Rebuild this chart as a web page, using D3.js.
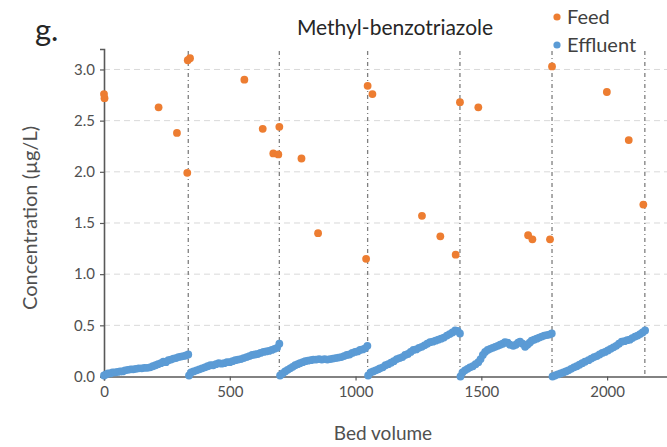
<!DOCTYPE html>
<html>
<head>
<meta charset="utf-8">
<script src="https://cdn.jsdelivr.net/npm/d3@7"></script>
<style>
  body { margin: 0; background: #fff; }
  svg text { font-family: Lato, "Open Sans", sans-serif; }
</style>
</head>
<body>
<div id="chart"></div>
<script>
// Methyl-benzotriazole breakthrough, panel g

var yTicks = [0, 0.5, 1.0, 1.5, 2.0, 2.5, 3.0];
var xTicks = [0, 500, 1000, 1500, 2000];
var cycleEnds = [335, 697, 1048, 1415, 1781, 2150];

// feed samples [bed volume, conc]
var feed = [
  [0, 2.76], [2, 2.72], [217, 2.63], [290, 2.38], [331, 1.99], [333, 3.09], [342, 3.11],
  [558, 2.90], [631, 2.42], [673, 2.18], [693, 2.17], [697, 2.44], [785, 2.13], [851, 1.40],
  [1042, 1.15], [1048, 2.84], [1067, 2.76], [1264, 1.57], [1337, 1.37], [1398, 1.19],
  [1415, 2.68], [1488, 2.63], [1686, 1.38], [1703, 1.34], [1773, 1.34], [1781, 3.03],
  [1999, 2.78], [2086, 2.31], [2144, 1.68]
];

// effluent samples [bed volume, conc]
var effluent = [
  // cycle 1
  [0, 0.01], [8, 0.02], [16, 0.03], [25, 0.03], [34, 0.04], [44, 0.04], [54, 0.045], [64, 0.05],
  [74, 0.05], [84, 0.06], [95, 0.065], [106, 0.07], [116, 0.07], [127, 0.075], [138, 0.08],
  [150, 0.08], [161, 0.085], [172, 0.085], [183, 0.09], [194, 0.10], [205, 0.11], [215, 0.12],
  [226, 0.13], [236, 0.145], [246, 0.14], [256, 0.16], [266, 0.165], [276, 0.175], [286, 0.18],
  [296, 0.19], [306, 0.195], [316, 0.20], [326, 0.205], [335, 0.215],
  // cycle 2
  [338, 0.01], [346, 0.04], [356, 0.05], [368, 0.06], [379, 0.07], [390, 0.08], [401, 0.09],
  [412, 0.10], [423, 0.11], [434, 0.11], [445, 0.12], [456, 0.13], [467, 0.125], [478, 0.13],
  [489, 0.14], [500, 0.14], [511, 0.15], [522, 0.16], [533, 0.165], [544, 0.17], [555, 0.18],
  [567, 0.19], [578, 0.20], [589, 0.21], [600, 0.215], [611, 0.22], [622, 0.23], [634, 0.24],
  [645, 0.245], [656, 0.25], [667, 0.26], [678, 0.27], [688, 0.28], [697, 0.32],
  // cycle 3
  [700, 0.01], [710, 0.03], [720, 0.05], [730, 0.065], [740, 0.08], [750, 0.095], [760, 0.11],
  [770, 0.12], [779, 0.13], [790, 0.14], [800, 0.15], [811, 0.155], [822, 0.16], [832, 0.165],
  [843, 0.165], [855, 0.17], [866, 0.165], [877, 0.17], [888, 0.165], [899, 0.17], [910, 0.175],
  [921, 0.18], [932, 0.185], [943, 0.19], [954, 0.20], [965, 0.21], [976, 0.215], [987, 0.23],
  [998, 0.24], [1008, 0.245], [1018, 0.26], [1028, 0.265], [1038, 0.275], [1047, 0.30],
  // cycle 4
  [1050, 0.01], [1060, 0.04], [1070, 0.05], [1080, 0.06], [1090, 0.07], [1097, 0.08], [1108, 0.09],
  [1119, 0.11], [1130, 0.12], [1141, 0.135], [1152, 0.15], [1164, 0.17], [1175, 0.18], [1186, 0.19],
  [1197, 0.21], [1208, 0.22], [1219, 0.24], [1230, 0.26], [1241, 0.265], [1252, 0.28], [1263, 0.29],
  [1274, 0.305], [1285, 0.32], [1296, 0.335], [1307, 0.34], [1318, 0.35], [1329, 0.36], [1340, 0.37],
  [1351, 0.38], [1363, 0.40], [1374, 0.415], [1385, 0.43], [1396, 0.45], [1406, 0.445], [1415, 0.42],
  // cycle 5
  [1417, 0.0], [1425, 0.04], [1435, 0.06], [1445, 0.075], [1455, 0.09], [1466, 0.10], [1477, 0.12],
  [1488, 0.14], [1497, 0.17], [1506, 0.21], [1515, 0.24], [1525, 0.26], [1535, 0.27], [1545, 0.28],
  [1555, 0.29], [1565, 0.30], [1575, 0.31], [1585, 0.32], [1594, 0.335], [1604, 0.33], [1614, 0.31],
  [1627, 0.30], [1637, 0.31], [1646, 0.33], [1654, 0.34], [1664, 0.32], [1674, 0.29], [1683, 0.31],
  [1692, 0.33], [1700, 0.35], [1710, 0.36], [1720, 0.37], [1730, 0.38], [1740, 0.39], [1750, 0.40],
  [1760, 0.405], [1770, 0.41], [1780, 0.42],
  // cycle 6
  [1783, 0.0], [1793, 0.01], [1804, 0.02], [1815, 0.03], [1826, 0.04], [1836, 0.05], [1846, 0.06],
  [1857, 0.075], [1868, 0.09], [1879, 0.10], [1890, 0.115], [1901, 0.13], [1912, 0.145], [1926, 0.16],
  [1937, 0.175], [1948, 0.19], [1959, 0.20], [1970, 0.215], [1981, 0.23], [1992, 0.24], [2003, 0.255],
  [2014, 0.27], [2025, 0.285], [2036, 0.30], [2047, 0.32], [2058, 0.34], [2069, 0.345], [2080, 0.355],
  [2090, 0.36], [2100, 0.375], [2111, 0.39], [2121, 0.40], [2131, 0.415], [2141, 0.43], [2151, 0.45]
];

var width = 667, height = 447;
var svg = d3.select("#chart").append("svg")
    .attr("width", width)
    .attr("height", height);

var x = d3.scaleLinear().domain([0, 2250]).range([104, 670]);
var y = d3.scaleLinear().domain([0, 3.2]).range([376.5, 49]);

var textCol = "#505050";

// horizontal grid
svg.append("g").selectAll("line")
    .data(yTicks.filter(function(d){return d > 0;}))
    .enter().append("line")
    .attr("x1", x(0)).attr("x2", width)
    .attr("y1", function(d){return y(d);})
    .attr("y2", function(d){return y(d);})
    .attr("stroke", "#d9d9d9")
    .attr("stroke-width", 1)
    .attr("stroke-dasharray", "6,4");

// cycle separators
svg.append("g").selectAll("line")
    .data(cycleEnds)
    .enter().append("line")
    .attr("x1", function(d){return x(d);})
    .attr("x2", function(d){return x(d);})
    .attr("y1", y(3.2) + 2).attr("y2", y(0))
    .attr("stroke", "#7f7f7f")
    .attr("stroke-width", 1.3)
    .attr("stroke-dasharray", "4,3,1,3");

// axes
var yAxis = d3.axisLeft(y).tickValues(yTicks).tickSize(4).tickFormat(d3.format(".1f"));
var xAxis = d3.axisBottom(x).tickValues(xTicks).tickSize(4).tickFormat(d3.format("d"));

var gy = svg.append("g").attr("transform", "translate(" + x(0) + ",0)").call(yAxis);
var gx = svg.append("g").attr("transform", "translate(0," + y(0) + ")").call(xAxis);

[gy, gx].forEach(function(g) {
    g.select(".domain").attr("stroke", "#595959").attr("stroke-width", 1.6);
    g.selectAll(".tick line").attr("stroke", "#595959").attr("stroke-width", 1.2);
    g.selectAll(".tick text").attr("fill", textCol).style("font-size", "15px");
});
gy.selectAll(".tick text").attr("x", -9);
gx.selectAll(".tick text").attr("y", 10);

// points
svg.append("g").selectAll("circle")
    .data(effluent)
    .enter().append("circle")
    .attr("cx", function(d){return x(d[0]);})
    .attr("cy", function(d){return y(d[1]);})
    .attr("r", 3.9)
    .attr("fill", "#5b9bd5");

svg.append("g").selectAll("circle")
    .data(feed)
    .enter().append("circle")
    .attr("cx", function(d){return x(d[0]);})
    .attr("cy", function(d){return y(d[1]);})
    .attr("r", 3.9)
    .attr("fill", "#ed7d31");

// titles
svg.append("text")
    .attr("x", 395).attr("y", 35)
    .attr("text-anchor", "middle")
    .attr("fill", "#262626")
    .style("font-size", "21px")
    .text("Methyl-benzotriazole");

svg.append("text")
    .attr("x", 35).attr("y", 41)
    .attr("fill", "#262626")
    .style("font-size", "31px")
    .text("g.");

svg.append("text")
    .attr("x", 383).attr("y", 440)
    .attr("text-anchor", "middle")
    .attr("fill", textCol)
    .style("font-size", "19px")
    .text("Bed volume");

svg.append("text")
    .attr("transform", "translate(37,218) rotate(-90)")
    .attr("text-anchor", "middle")
    .attr("fill", textCol)
    .style("font-size", "20px")
    .text("Concentration (µg/L)");

// legend
var legend = [["Feed", "#ed7d31"], ["Effluent", "#5b9bd5"]];
var lg = svg.append("g").selectAll("g")
    .data(legend)
    .enter().append("g")
    .attr("transform", function(d, i){return "translate(557," + (17 + i * 28) + ")";});
lg.append("circle").attr("r", 3.6).attr("fill", function(d){return d[1];});
lg.append("text")
    .attr("x", 10).attr("y", 7)
    .attr("fill", "#404040")
    .style("font-size", "20px")
    .text(function(d){return d[0];});
</script>
</body>
</html>
